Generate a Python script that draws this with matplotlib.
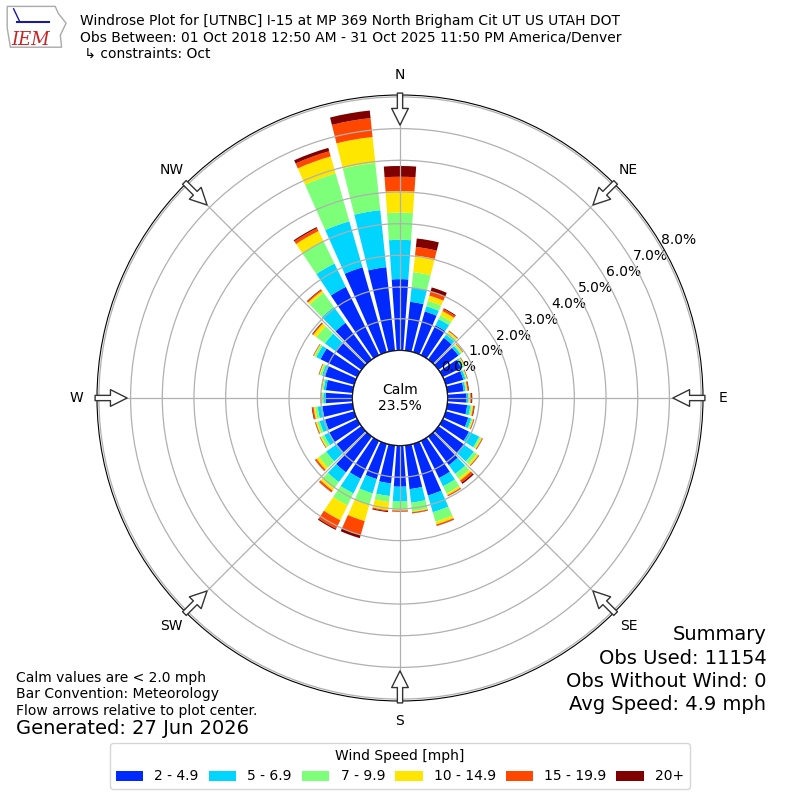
import numpy as np
import matplotlib
matplotlib.use("Agg")
import matplotlib.pyplot as plt
from matplotlib.patches import Circle, Polygon, Patch

# wind direction bins (deg, meteorology) and frequency [%] per speed bin
directions = np.arange(0, 360, 10)
spd_2_5 = [2.25, 1.55, 1.34, 1.05, 0.85, 0.78, 0.65, 0.58, 0.52, 0.60, 0.63, 0.74,
           0.92, 1.01, 1.12, 1.31, 1.70, 1.39, 1.30, 1.21, 1.16, 1.33, 1.40, 0.97,
           0.98, 0.96, 0.96, 0.85, 0.85, 0.96, 1.29, 1.02, 1.43, 2.40, 2.79, 2.65]
spd_5_7 = [1.24, 0.46, 0.17, 0.22, 0.12, 0.08, 0.07, 0.07, 0.06, 0.06, 0.10, 0.10,
           0.36, 0.37, 0.34, 0.29, 0.55, 0.43, 0.47, 0.40, 0.47, 0.52, 0.38, 0.41,
           0.18, 0.18, 0.15, 0.07, 0.07, 0.10, 0.15, 0.41, 0.62, 0.82, 1.51, 1.81]
spd_7_10 = [0.86, 0.48, 0.18, 0.13, 0.08, 0.05, 0.04, 0.03, 0.03, 0.03, 0.05, 0.04,
            0.06, 0.12, 0.18, 0.25, 0.31, 0.27, 0.26, 0.19, 0.37, 0.42, 0.25, 0.28,
            0.10, 0.08, 0.08, 0.04, 0.04, 0.06, 0.06, 0.33, 0.55, 0.79, 1.57, 1.50]
spd_10_15 = [0.68, 0.53, 0.17, 0.15, 0.05, 0.04, 0.02, 0.02, 0.03, 0.03, 0.04, 0.03,
             0.04, 0.06, 0.08, 0.06, 0.09, 0.03, 0.02, 0.26, 0.54, 0.52, 0.08, 0.10,
             0.04, 0.04, 0.05, 0.02, 0.02, 0.03, 0.03, 0.12, 0.08, 0.35, 0.56, 0.82]
spd_15_20 = [0.45, 0.27, 0.13, 0.07, 0.02, 0.01, 0.01, 0.01, 0.03, 0.03, 0.03, 0.02,
             0.02, 0.02, 0.08, 0.03, 0.04, 0.03, 0.03, 0.03, 0.45, 0.30, 0.06, 0.05,
             0.01, 0.02, 0.04, 0.01, 0.01, 0.01, 0.01, 0.03, 0.04, 0.10, 0.17, 0.60]
spd_20_up = [0.34, 0.27, 0.14, 0.03, 0.01, 0.01, 0.01, 0.01, 0.02, 0.03, 0.02, 0.01,
             0.01, 0.01, 0.05, 0.01, 0.01, 0.01, 0.01, 0.03, 0.11, 0.04, 0.01, 0.01,
             0.01, 0.01, 0.02, 0.01, 0.01, 0.01, 0.01, 0.02, 0.02, 0.04, 0.11, 0.24]

speed_labels = ["2 - 4.9", "5 - 6.9", "7 - 9.9", "10 - 14.9", "15 - 19.9", "20+"]
compass_labels = ["N", "NE", "E", "SE", "S", "SW", "W", "NW"]
rticks = np.arange(0, 9)
calm_pct = 23.5
rmax = 8.06
rorigin = -1.5

title = ("Windrose Plot for [UTNBC] I-15 at MP 369 North Brigham Cit UT US UTAH DOT\n"
         "Obs Between: 01 Oct 2018 12:50 AM - 31 Oct 2025 11:50 PM America/Denver\n"
         " \u21b3 constraints: Oct")
summary_lines = ["Summary", "Obs Used: 11154", "Obs Without Wind: 0", "Avg Speed: 4.9 mph"]

series = [spd_2_5, spd_5_7, spd_7_10, spd_10_15, spd_15_20, spd_20_up]
cmap = plt.get_cmap("jet")
colors = [cmap(i / 6.0) for i in range(1, 7)]

fig = plt.figure(figsize=(8, 8), dpi=100)
ax = fig.add_axes([0.12125, 0.12375, 0.7575, 0.7575], projection="polar")
ax.set_theta_zero_location("N")
ax.set_theta_direction(-1)

theta = np.deg2rad(directions)
width = np.deg2rad(8)
bottom = np.zeros(len(directions))
for vals, c in zip(series, colors):
    vals = np.array(vals)
    ax.bar(theta, vals, width=width, bottom=bottom, color=c, linewidth=0, zorder=1)
    bottom += vals

ax.set_rorigin(rorigin)
ax.set_ylim(0, rmax)
ax.set_yticks(rticks)
ax.set_yticklabels(["%.1f%%" % t for t in rticks], fontsize=10)
ax.set_rlabel_position(60)
for lab in ax.get_yticklabels():
    lab.set_ha("left")
    lab.set_va("bottom")
ax.set_xticks(np.deg2rad(np.arange(0, 360, 45)))
ax.set_xticklabels(compass_labels, fontsize=10)
ax.tick_params(axis="x", pad=4)
ax.grid(True, color="#b0b0b0", linewidth=0.9)

# calm circle in the middle
calm_r = 0.5 * (0 - rorigin) / (rmax - rorigin)
ax.add_patch(Circle((0.5, 0.5), calm_r, transform=ax.transAxes, facecolor="white",
                    edgecolor="black", linewidth=1.0, zorder=3))
ax.text(0.5, 0.5, "Calm\n%.1f%%" % calm_pct, transform=ax.transAxes, ha="center",
        va="center", fontsize=10, zorder=4)

# flow arrows at the edge
for ang in np.arange(0, 360, 45):
    t = np.deg2rad(ang)
    ax.annotate("", xy=(t, rmax - 0.95), xytext=(t, rmax + 0.06),
                arrowprops=dict(arrowstyle="simple,head_length=1.2,head_width=1.2,tail_width=0.38",
                                fc="white", ec="#333333", lw=1.0, shrinkA=0, shrinkB=0),
                annotation_clip=False, zorder=5)

fig.text(0.10, 0.9825, title, ha="left", va="top", fontsize=10, linespacing=1.2)

# summary block, one line at a time
for i, line in enumerate(summary_lines):
    fig.text(0.958, 0.20625 - i * 0.029, line, ha="right", va="center", fontsize=14)

fig.text(0.02, 0.103, "Calm values are < 2.0 mph\nBar Convention: Meteorology\n"
         "Flow arrows relative to plot center.", ha="left", va="bottom", fontsize=10,
         linespacing=1.2)
fig.text(0.02, 0.09, "Generated: 27 Jun 2026", ha="left", va="center", fontsize=14)

handles = [Patch(facecolor=c) for c in colors]
fig.legend(handles, speed_labels, loc="lower center", bbox_to_anchor=(0.5, 0.005),
           ncol=6, title="Wind Speed [mph]", fontsize=10, title_fontsize=10,
           columnspacing=0.7)

# rough IEM logo
lax = fig.add_axes([0.005, 0.935, 0.08, 0.06])
lax.axis("off")
lax.set_xlim(0, 1)
lax.set_ylim(0, 1)
lax.add_patch(Polygon([[0.05, 0.95], [0.8, 0.95], [0.85, 0.8], [0.97, 0.6], [0.88, 0.35],
                       [0.9, 0.1], [0.1, 0.1], [0.05, 0.5]], closed=True, fill=False,
                      edgecolor="#aaaaaa", linewidth=1.0))
lax.plot([0.2, 0.7], [0.62, 0.62], color="#1a1aa0", linewidth=1.5)
lax.plot([0.25, 0.15], [0.62, 0.9], color="#1a1aa0", linewidth=1.0)
lax.text(0.42, 0.25, "IEM", color="#cc2222", fontsize=13, style="italic",
         family="DejaVu Serif", ha="center", va="center")

fig.savefig("out.png", dpi=100)
